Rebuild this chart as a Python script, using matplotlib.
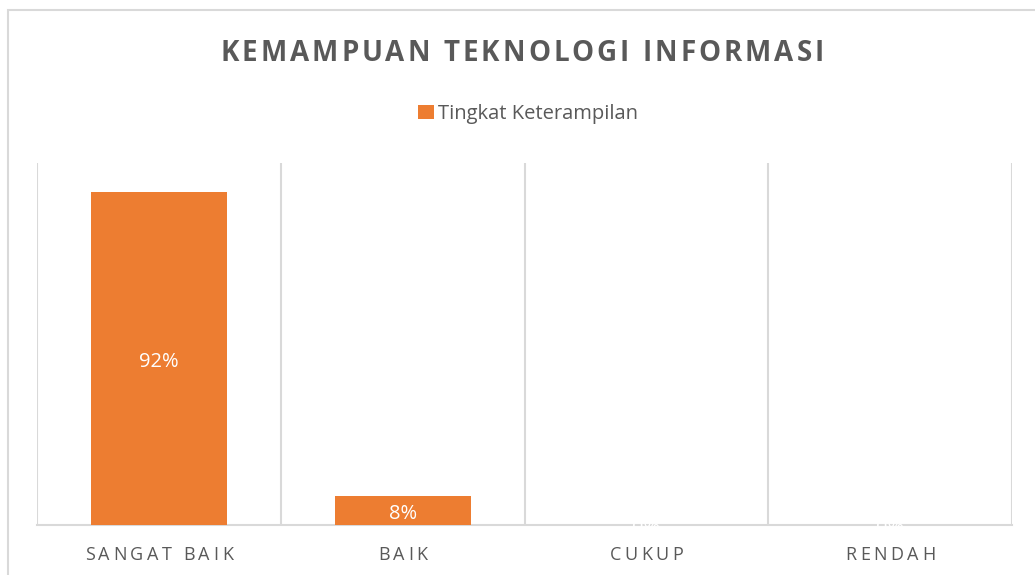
import matplotlib
matplotlib.use("Agg")
import matplotlib.pyplot as plt
from matplotlib.font_manager import FontProperties
from matplotlib.patches import Rectangle, Patch

# ---- data ----
title = "KEMAMPUAN TEKNOLOGI INFORMASI"
series_name = "Tingkat Keterampilan"
categories = ["SANGAT BAIK", "BAIK", "CUKUP", "RENDAH"]
values = [0.92, 0.08, 0.0, 0.0]
value_labels = ["92%", "8%", "0%", "0%"]

ORANGE = "#ED7D31"
TEXT = "#595959"
GRID = "#D9D9D9"
FONT = "Open Sans"

W, H = 1035, 575
fig = plt.figure(figsize=(W / 100, H / 100), dpi=100)
fig.patch.set_facecolor("white")

# chart border (extends beyond the bottom/right of the image)
fig.add_artist(Rectangle((8 / W, -0.1), 1.2, 1 - 10 / H + 0.1,
                         transform=fig.transFigure, fill=False,
                         edgecolor=GRID, linewidth=1.5))

ax = fig.add_axes([37 / W, (H - 524.5) / H, (1012 - 37) / W, (524.5 - 163) / H])
x = list(range(len(categories)))
bars = ax.bar(x, values, width=0.558, color=ORANGE, zorder=2)
ax.set_xlim(-0.5, len(categories) - 0.5)
ax.set_ylim(0, 1.0)

for s in ["top", "left", "right"]:
    ax.spines[s].set_visible(False)
ax.spines["bottom"].set_color(GRID)
ax.spines["bottom"].set_linewidth(1.5)
ax.spines["bottom"].set_zorder(1)
ax.set_yticks([])
ax.set_xticks(x)
ax.set_xticklabels([""] * len(categories))
ax.tick_params(axis="x", length=0)
ax.set_xticks([i - 0.5 for i in range(len(categories) + 1)], minor=True)
ax.tick_params(axis="x", which="minor", length=0)
ax.grid(True, axis="x", which="minor", color=GRID, linewidth=1.5, zorder=0)
ax.set_axisbelow(True)

anns = ax.bar_label(bars, labels=value_labels, label_type="center", color="white",
                    fontsize=14.5, family=FONT, zorder=5)
for a in anns:
    a.xyann = (0, -2.5)

renderer = fig.canvas.get_renderer()


def spaced_text(xc_px, baseline_px, s, spacing_px, size, weight="normal", color=TEXT):
    prop = FontProperties(family=FONT, size=size, weight=weight)
    widths = [renderer.get_text_width_height_descent(ch, prop, ismath=False)[0]
              for ch in s]
    total = sum(widths) + spacing_px * (len(s) - 1)
    cur = xc_px - total / 2
    for ch, w in zip(s, widths):
        fig.text(cur / W, (H - baseline_px) / H, ch, fontproperties=prop,
                 color=color, ha="left", va="baseline")
        cur += w + spacing_px


# title
spaced_text(522, 61, title, 3.0, 20.0, weight="bold")

# category labels
for xi, cat in zip(x, categories):
    xd = ax.transData.transform((xi, 0))[0]
    spaced_text(xd, 560, cat, 3.5, 13.0)

# legend
handle = Patch(facecolor=ORANGE, edgecolor="none")
fig.legend([handle], [series_name], loc="center",
           bbox_to_anchor=(528 / W, (H - 114) / H), frameon=False,
           prop=FontProperties(family=FONT, size=14.5),
           labelcolor=TEXT, handlelength=0.75, handleheight=0.75,
           handletextpad=0.2, borderpad=0)

fig.savefig("out.png", dpi=100, facecolor="white")
